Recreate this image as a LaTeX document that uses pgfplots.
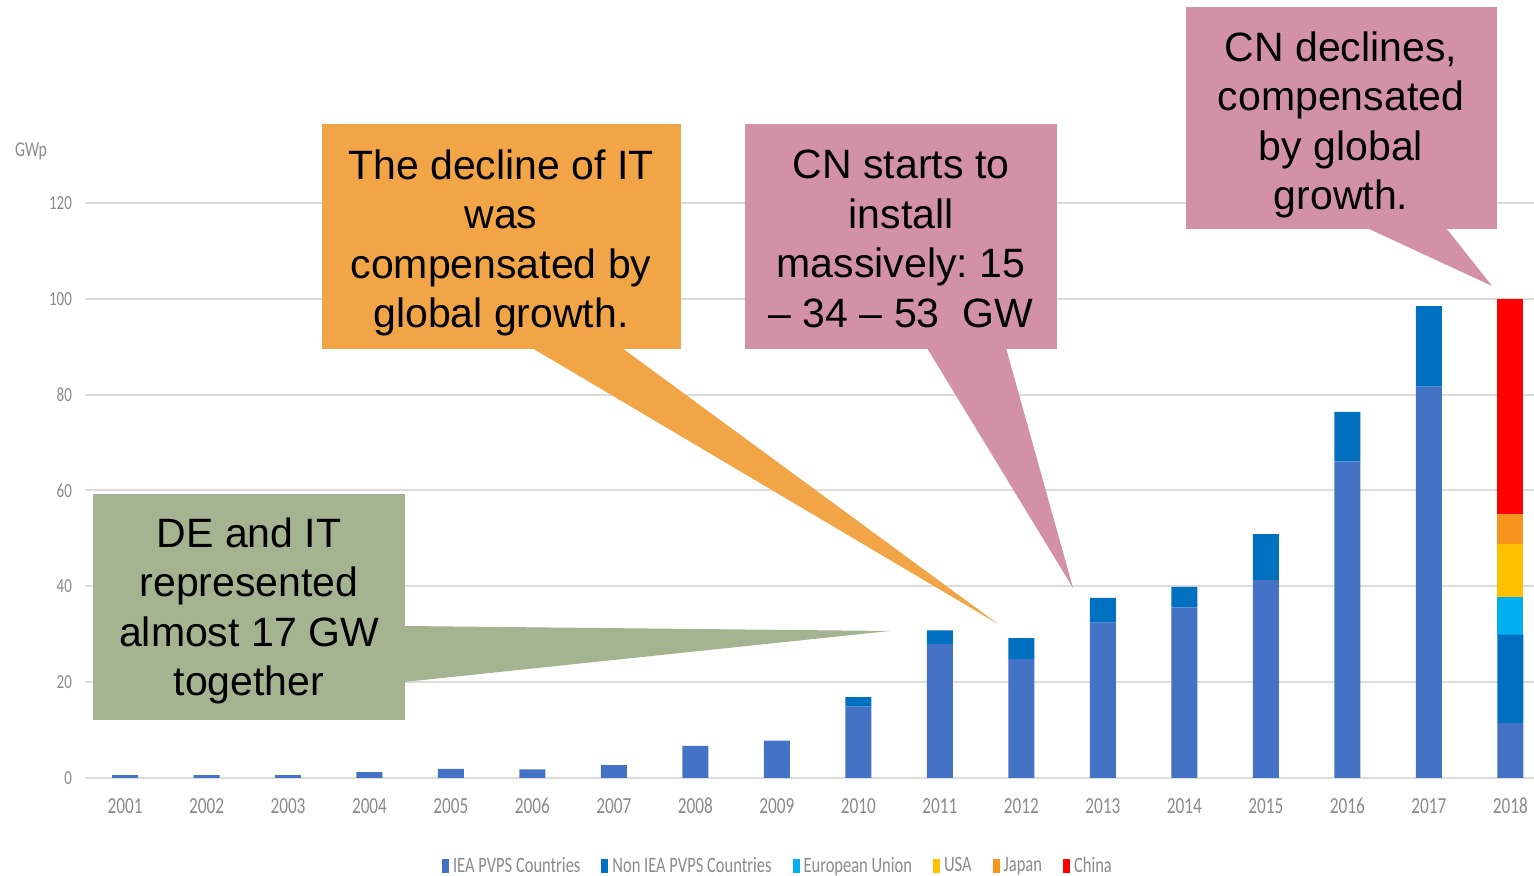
\documentclass[border=0pt]{standalone}
\usepackage{pgfplots}
\pgfplotsset{compat=1.18}
\usepackage{pgfplotstable}
\usepackage{fontspec}
\setmainfont{Liberation Sans}
\newfontfamily\tickfont[FakeStretch=0.75]{Carlito}
\definecolor{iea}{HTML}{4472C4}
\definecolor{noniea}{HTML}{0070C0}
\definecolor{eu}{HTML}{00B0F0}
\definecolor{usa}{HTML}{FFC000}
\definecolor{japan}{HTML}{F7941D}
\definecolor{china}{HTML}{FF0000}
\definecolor{tickgray}{HTML}{8A8A8A}
\definecolor{gridgray}{HTML}{DCDCDC}
\definecolor{cgreen}{HTML}{A5B490}
\definecolor{corange}{HTML}{F2A546}
\definecolor{cpink}{HTML}{D291A7}

\pgfplotstableread{
x IEA NonIEA EU USA Japan China
0  0.6  0.0  0 0 0 0
1  0.6  0.0  0 0 0 0
2  0.6  0.0  0 0 0 0
3  1.2  0.0  0 0 0 0
4  1.9  0.0  0 0 0 0
5  1.8  0.0  0 0 0 0
6  2.7  0.0  0 0 0 0
7  6.7  0.0  0 0 0 0
8  7.8  0.0  0 0 0 0
9  14.9 2.0  0 0 0 0
10 28.0 2.8  0 0 0 0
11 24.8 4.4  0 0 0 0
12 32.4 5.2  0 0 0 0
13 35.6 4.3  0 0 0 0
14 41.3 9.6  0 0 0 0
15 66.1 10.3 0 0 0 0
16 81.7 16.8 0 0 0 0
17 11.5 18.4 7.8 11.1 6.3 44.9
}\datatable

\begin{document}
\frenchspacing
\begin{tikzpicture}
\path[use as bounding box] (0,0) rectangle (767pt,438pt);
\begin{axis}[
  at={(42.5pt,49pt)}, anchor=south west,
  scale only axis, width=724.5pt, height=287.5pt,
  ybar stacked, bar width=13pt,
  xmin=-0.491, xmax=17.29, ymin=0, ymax=120,
  ytick={0,20,...,120},
  xtick={0,...,17},
  xticklabels={2001,2002,2003,2004,2005,2006,2007,2008,2009,2010,2011,2012,2013,2014,2015,2016,2017,2018},
  /pgf/number format/assume math mode=true,
  axis line style={draw=none},
  major tick style={draw=none},
  ymajorgrids, major grid style={gridgray, line width=1pt},
  xticklabel style={font=\tickfont\fontsize{11.5}{13}\selectfont, text=tickgray, yshift=-6pt, text height=8pt, text depth=0pt},
  yticklabel style={font=\tickfont\fontsize{10}{11}\selectfont, text=tickgray, xshift=-3pt},
  legend columns=6,
  legend style={at={(0.242,-0.153)}, anchor=west, draw=none, fill=none,
    font=\tickfont\fontsize{11}{13}\selectfont, text=tickgray,
    nodes={inner xsep=2pt, inner ysep=0pt},
    /tikz/every even column/.append style={column sep=8.5pt}},
  every axis plot post/.append style={legend image code/.code={\fill[##1] (0pt,-3.5pt) rectangle (3.5pt,3.5pt);}},
]
\addplot[fill=iea, draw=none] table[x=x, y=IEA] {\datatable};
\addplot[fill=noniea, draw=none] table[x=x, y=NonIEA] {\datatable};
\addplot[fill=eu, draw=none] table[x=x, y=EU] {\datatable};
\addplot[fill=usa, draw=none] table[x=x, y=USA] {\datatable};
\addplot[fill=japan, draw=none] table[x=x, y=Japan] {\datatable};
\addplot[fill=china, draw=none] table[x=x, y=China] {\datatable};
\legend{IEA PVPS Countries, Non IEA PVPS Countries, European Union, USA, Japan, China}
\end{axis}
\begin{scope}[x=0.5pt, y=-0.5pt, shift={(0,438pt)}]
  \node[font=\tickfont\fontsize{10.5}{12}\selectfont, text=tickgray] at (31,151) {GWp};
  % green callout
  \fill[cgreen] (93,494) rectangle (405,720);
  \fill[cgreen] (404,626) -- (890,631) -- (404,682) -- cycle;
  \node[align=center, font=\fontsize{20.5}{24.8}\selectfont] at (249,611)
    {DE and IT\\represented\\almost 17 GW\\together};
  % orange callout
  \fill[corange] (322,124) rectangle (681,349);
  \fill[corange] (532,348) -- (622,348) -- (998,624) -- cycle;
  \node[align=center, font=\fontsize{20.5}{24.8}\selectfont] at (501,243)
    {The decline of IT\\was\\compensated by\\global growth.};
  % pink middle callout
  \fill[cpink] (745,124) rectangle (1057,349);
  \fill[cpink] (927,348) -- (1006,348) -- (1073,588) -- cycle;
  \node[align=center, font=\fontsize{20.5}{24.8}\selectfont] at (901,239)
    {CN starts to\\install\\massively: 15\\– 34 – 53\ \ GW};
  % pink top right callout
  \fill[cpink] (1186,7) rectangle (1497,229);
  \fill[cpink] (1367,228) -- (1446,228) -- (1492,286) -- cycle;
  \node[align=center, font=\fontsize{20.5}{24.8}\selectfont] at (1341,125)
    {CN declines,\\compensated\\by global\\growth.};
\end{scope}
\end{tikzpicture}
\end{document}
